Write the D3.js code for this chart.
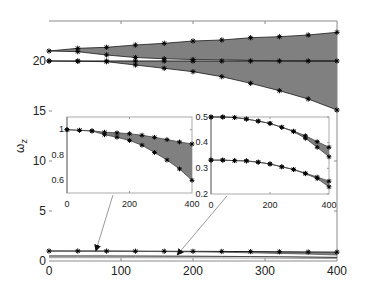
<!DOCTYPE html>
<html>
<head>
<meta charset="utf-8">
<script src="https://cdn.jsdelivr.net/npm/d3@7"></script>
<style>
  body { margin: 0; background: #fff; }
  text { font-family: "Liberation Sans", Arial, sans-serif; fill: #222; }
</style>
</head>
<body>
<svg id="chart" width="379" height="286"></svg>
<script>
// sample points along the horizontal axis
const steps = [0, 40, 80, 120, 160, 200, 240, 280, 320, 360, 400];

// main panel, modes around 20
const modeAUpper = [21.0, 21.27, 21.37, 21.6, 21.77, 22.0, 22.1, 22.33, 22.43, 22.6, 22.87];
const modeALower = [21.0, 20.93, 20.6, 20.35, 20.22, 20.15, 20.12, 20.06, 20.02, 20.0, 20.0];
const modeB = [20, 20, 20, 20, 20, 20, 20, 20, 20, 20, 20];
const modeCLower = [20.0, 19.97, 19.93, 19.6, 19.27, 18.93, 18.43, 17.77, 17.03, 16.2, 15.1];

// small modes (shown in the insets)
const slowUpper = [1.0, 0.995, 0.99, 0.98, 0.975, 0.968, 0.956, 0.94, 0.922, 0.903, 0.887];
const slowLower = [1.0, 0.995, 0.99, 0.96, 0.94, 0.915, 0.877, 0.82, 0.76, 0.69, 0.60];
const midUpper = [0.5, 0.5, 0.498, 0.492, 0.484, 0.475, 0.46, 0.445, 0.427, 0.404, 0.382];
const midLower = [0.5, 0.5, 0.498, 0.492, 0.484, 0.475, 0.46, 0.443, 0.417, 0.382, 0.345];
const lowUpper = [0.332, 0.332, 0.33, 0.329, 0.324, 0.317, 0.306, 0.296, 0.281, 0.266, 0.25];
const lowLower = [0.332, 0.332, 0.33, 0.329, 0.324, 0.317, 0.306, 0.295, 0.279, 0.26, 0.228];

// tick labels
const mainXTicks = [0, 100, 200, 300, 400];
const mainYTicks = [0, 5, 10, 15, 20];
const insetXTicks = [0, 200, 400];
const inset1YTicks = [0.6, 0.8, 1];
const inset2YTicks = [0.2, 0.3, 0.4, 0.5];

const conf = {
  fill: '#808080',
  line: '#1a1a1a',
  frame: '#8a8a8a',
  starR: 2.6
};

const svg = d3.select('#chart');

// arrow head
svg.append('defs')
  .append('marker')
  .attr('id', 'arrowEnd')
  .attr('viewBox', '0 0 10 10')
  .attr('refX', 9)
  .attr('refY', 5)
  .attr('markerWidth', 7)
  .attr('markerHeight', 7)
  .attr('markerUnits', 'userSpaceOnUse')
  .attr('orient', 'auto')
  .append('path')
  .attr('d', 'M0,0 L10,5 L0,10 Z')
  .attr('fill', '#111');

const starPath = r => {
  const d = r * 0.72;
  return `M${-r},0L${r},0M0,${-r}L0,${r}M${-d},${-d}L${d},${d}M${-d},${d}L${d},${-d}`;
};

const drawStars = (g, x, y, vals, r, offset = 0) => {
  g.append('g')
    .selectAll('path')
    .data(vals)
    .join('path')
    .attr('transform', (v, i) => `translate(${x(steps[i + offset])},${y(v)})`)
    .attr('d', starPath(r))
    .attr('stroke', '#000')
    .attr('stroke-width', 1)
    .attr('fill', 'none');
};

const drawBand = (g, x, y, upper, lower) => {
  const area = d3.area()
    .x((d, i) => x(steps[i]))
    .y0((d, i) => y(lower[i]))
    .y1((d, i) => y(upper[i]));
  g.append('path')
    .attr('d', area(upper))
    .attr('fill', conf.fill);
};

const drawLine = (g, x, y, vals, color, w) => {
  const line = d3.line()
    .x((d, i) => x(steps[i]))
    .y(d => y(d));
  g.append('path')
    .attr('d', line(vals))
    .attr('fill', 'none')
    .attr('stroke', color)
    .attr('stroke-width', w);
};

// ---------- main panel ----------
const x = d3.scaleLinear().domain([0, 400]).range([49, 337]);
const y = d3.scaleLinear().domain([0, 24]).range([261, 21]);

const main = svg.append('g');

// frame: top, right, bottom (no left spine in the figure)
main.append('path')
  .attr('d', `M${x(0)},${y(24)}H${x(400)}V${y(0)}H${x(0)}`)
  .attr('fill', 'none')
  .attr('stroke', conf.frame)
  .attr('stroke-width', 1);

// inward ticks
mainXTicks.slice(1, 4).forEach(t => {
  main.append('line').attr('x1', x(t)).attr('x2', x(t)).attr('y1', y(0)).attr('y2', y(0) - 3)
    .attr('stroke', conf.frame);
  main.append('line').attr('x1', x(t)).attr('x2', x(t)).attr('y1', y(24)).attr('y2', y(24) + 3)
    .attr('stroke', conf.frame);
});
mainYTicks.slice(1).forEach(t => {
  main.append('line').attr('x1', x(400)).attr('x2', x(400) - 3).attr('y1', y(t)).attr('y2', y(t))
    .attr('stroke', conf.frame);
  main.append('line').attr('x1', x(0)).attr('x2', x(0) + 3).attr('y1', y(t)).attr('y2', y(t))
    .attr('stroke', conf.frame);
});

main.selectAll('.xlab')
  .data(mainXTicks)
  .join('text')
  .attr('x', d => x(d))
  .attr('y', y(0) + 14)
  .attr('text-anchor', 'middle')
  .attr('font-size', 12)
  .text(d => d);

main.selectAll('.ylab')
  .data(mainYTicks)
  .join('text')
  .attr('x', 46)
  .attr('y', d => y(d) + 4)
  .attr('text-anchor', 'end')
  .attr('font-size', 12)
  .text(d => d);

const ylab = main.append('text')
  .attr('transform', 'translate(24,146) rotate(-90)')
  .attr('text-anchor', 'middle')
  .attr('font-size', 12);
ylab.append('tspan').text('ω');
ylab.append('tspan').attr('font-size', 9).attr('dy', 3).text('z');

// bands
drawBand(main, x, y, modeAUpper, modeALower);
drawBand(main, x, y, modeB, modeCLower);
drawBand(main, x, y, slowUpper, slowLower);
drawBand(main, x, y, midUpper, midLower);
drawBand(main, x, y, lowUpper, lowLower);

drawLine(main, x, y, modeAUpper, conf.line, 0.8);
drawLine(main, x, y, modeALower, conf.line, 0.8);
drawLine(main, x, y, modeB, conf.line, 1);
drawLine(main, x, y, modeCLower, conf.line, 0.8);
drawLine(main, x, y, slowUpper, conf.line, 1);
drawLine(main, x, y, slowLower, '#555', 0.8);
drawLine(main, x, y, midUpper, '#999', 1);
drawLine(main, x, y, midLower, '#333', 0.8);
drawLine(main, x, y, lowUpper, '#999', 1);

drawStars(main, x, y, modeAUpper, conf.starR);
drawStars(main, x, y, modeALower.slice(1, 6), conf.starR, 1);
drawStars(main, x, y, modeB, conf.starR);
drawStars(main, x, y, modeCLower, conf.starR);
drawStars(main, x, y, slowUpper, conf.starR);

// ---------- insets ----------
const drawInset = (box, yDomain, yTicks, series) => {
  const ix = d3.scaleLinear().domain([0, 400]).range([box.left, box.right]);
  const iy = d3.scaleLinear().domain(yDomain).range([box.bottom, box.top]);
  const g = svg.append('g');

  g.append('rect')
    .attr('x', box.left).attr('y', box.top)
    .attr('width', box.right - box.left).attr('height', box.bottom - box.top)
    .attr('fill', '#fff')
    .attr('stroke', '#aaa')
    .attr('stroke-width', 1);
  g.append('line')
    .attr('x1', box.left).attr('x2', box.left).attr('y1', box.top).attr('y2', box.bottom)
    .attr('stroke', '#777');

  insetXTicks.slice(1, 2).forEach(t => {
    g.append('line').attr('x1', ix(t)).attr('x2', ix(t)).attr('y1', box.bottom).attr('y2', box.bottom - 2)
      .attr('stroke', '#999');
    g.append('line').attr('x1', ix(t)).attr('x2', ix(t)).attr('y1', box.top).attr('y2', box.top + 2)
      .attr('stroke', '#999');
  });
  yTicks.forEach(t => {
    g.append('line').attr('x1', box.right).attr('x2', box.right - 2).attr('y1', iy(t)).attr('y2', iy(t))
      .attr('stroke', '#999');
  });

  g.selectAll('.ixl')
    .data(insetXTicks)
    .join('text')
    .attr('x', d => ix(d))
    .attr('y', box.bottom + 13.5)
    .attr('text-anchor', 'middle')
    .attr('font-size', 9)
    .text(d => d);
  g.selectAll('.iyl')
    .data(yTicks)
    .join('text')
    .attr('x', box.left - 3)
    .attr('y', d => iy(d) + 2.5)
    .attr('text-anchor', 'end')
    .attr('font-size', 9)
    .text(d => String(d));

  series.forEach(s => {
    drawBand(g, ix, iy, s.upper, s.lower);
  });
  series.forEach(s => {
    drawLine(g, ix, iy, s.upper, '#444', 0.8);
    drawLine(g, ix, iy, s.lower, '#444', 0.8);
    drawStars(g, ix, iy, s.upper, 2.4);
    drawStars(g, ix, iy, s.lower, 2.4);
  });
  return { ix, iy };
};

const box1 = { left: 67, right: 192, top: 117, bottom: 193 };
const box2 = { left: 211, right: 329, top: 117, bottom: 194 };

const in1 = drawInset(box1, [0.5, 1.1], inset1YTicks, [{ upper: slowUpper, lower: slowLower }]);
const in2 = drawInset(box2, [0.2, 0.5], inset2YTicks, [
  { upper: midUpper, lower: midLower },
  { upper: lowUpper, lower: lowLower }
]);

// pointers from the insets to the curves they magnify
const pointers = [
  { from: in1, fx: 147, tx: 65, ty: 1.0 },
  { from: in2, fx: 54, tx: 178, ty: 0.6 }
];
pointers.forEach(p => {
  svg.append('line')
    .attr('x1', p.from.ix(p.fx))
    .attr('y1', p.from.iy.range()[0] + 2)
    .attr('x2', x(p.tx))
    .attr('y2', y(p.ty))
    .attr('stroke', '#555')
    .attr('stroke-width', 0.6)
    .attr('marker-end', 'url(#arrowEnd)');
});
</script>
</body>
</html>
